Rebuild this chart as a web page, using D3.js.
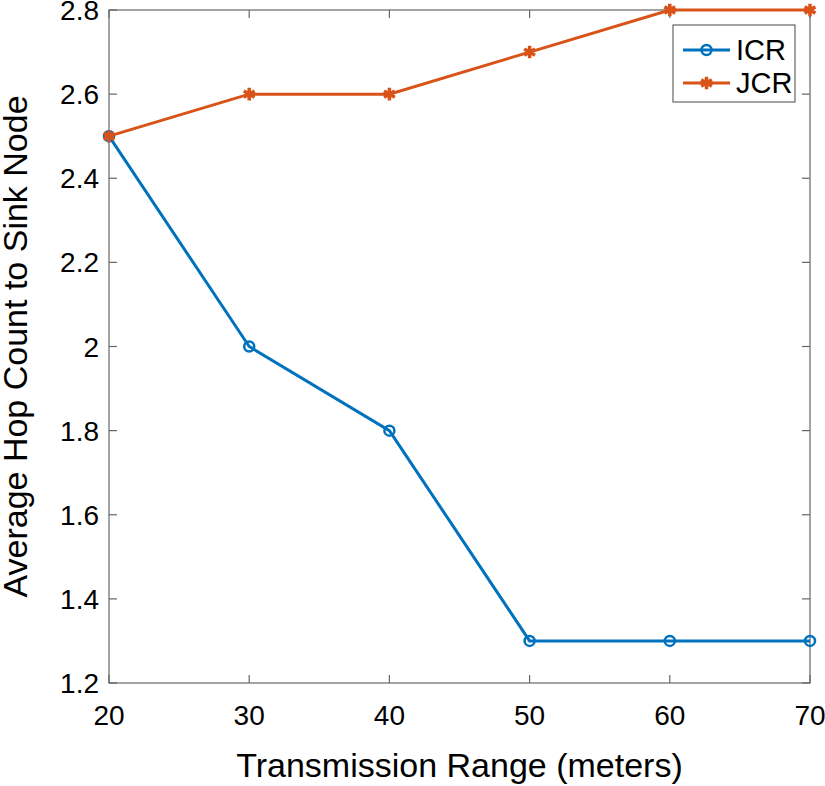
<!DOCTYPE html>
<html><head><meta charset="utf-8">
<script src="https://cdn.jsdelivr.net/npm/d3@7"></script>
<style>body{margin:0;background:#fff}svg{display:block}text{font-family:"Liberation Sans",Arial,sans-serif;fill:#000}</style>
</head><body>
<script>
const ranges = [20, 30, 40, 50, 60, 70];
const icr = [2.5, 2.0, 1.8, 1.3, 1.3, 1.3];
const jcr = [2.5, 2.6, 2.6, 2.7, 2.8, 2.8];
const xTicks = [20, 30, 40, 50, 60, 70];
const yTicks = [1.2, 1.4, 1.6, 1.8, 2.0, 2.2, 2.4, 2.6, 2.8];
const seriesNames = ["ICR", "JCR"];
const colors = ["#0072BD", "#D95319"];

const W = 825, H = 786;
const L = 109, R = 810, T = 10, B = 683;
const svg = d3.select("body").append("svg").attr("width", W).attr("height", H);
const x = d3.scaleLinear().domain([20, 70]).range([L, R]);
const y = d3.scaleLinear().domain([1.2, 2.8]).range([B, T]);
const axisCol = "#666";

// box
svg.append("rect").attr("x", L).attr("y", T).attr("width", R - L).attr("height", B - T)
  .attr("fill", "none").attr("stroke", axisCol).attr("stroke-width", 1.2);

// ticks (inward, both sides)
const tl = 8;
xTicks.forEach(t => {
  const px = x(t);
  svg.append("line").attr("x1", px).attr("x2", px).attr("y1", B).attr("y2", B - tl).attr("stroke", axisCol).attr("stroke-width", 1.2);
  svg.append("line").attr("x1", px).attr("x2", px).attr("y1", T).attr("y2", T + tl).attr("stroke", axisCol).attr("stroke-width", 1.2);
  svg.append("text").attr("x", px).attr("y", 725).attr("text-anchor", "middle").attr("font-size", 28).text(t);
});
yTicks.forEach(t => {
  const py = y(t);
  svg.append("line").attr("x1", L).attr("x2", L + tl).attr("y1", py).attr("y2", py).attr("stroke", axisCol).attr("stroke-width", 1.2);
  svg.append("line").attr("x1", R).attr("x2", R - tl).attr("y1", py).attr("y2", py).attr("stroke", axisCol).attr("stroke-width", 1.2);
  svg.append("text").attr("x", 99).attr("y", py + 10).attr("text-anchor", "end").attr("font-size", 28)
    .text(Number.isInteger(t) ? t : t.toFixed(1));
});

// axis labels
svg.append("text").attr("x", (L + R) / 2).attr("y", 777).attr("text-anchor", "middle").attr("font-size", 34)
  .text("Transmission Range (meters)");
svg.append("text").attr("transform", `translate(27,${(T + B) / 2}) rotate(-90)`).attr("text-anchor", "middle")
  .attr("font-size", 34).text("Average Hop Count to Sink Node");

const line = d3.line().x((d, i) => x(ranges[i])).y(d => y(d));
const star = d3.symbol().type(d3.symbolAsterisk).size(110);

function drawCircle(g, cx, cy, c) {
  g.append("circle").attr("cx", cx).attr("cy", cy).attr("r", 5).attr("fill", "none").attr("stroke", c).attr("stroke-width", 2.5);
}
function drawStar(g, cx, cy, c) {
  g.append("path").attr("d", star()).attr("transform", `translate(${cx},${cy})`).attr("fill", "none").attr("stroke", c).attr("stroke-width", 3.5);
}

[icr, jcr].forEach((vals, si) => {
  const g = svg.append("g");
  g.append("path").datum(vals).attr("d", line).attr("fill", "none").attr("stroke", colors[si]).attr("stroke-width", 3);
  vals.forEach((v, i) => {
    if (si === 0) drawCircle(g, x(ranges[i]), y(v), colors[si]);
    else drawStar(g, x(ranges[i]), y(v), colors[si]);
  });
});

// legend
const lg = svg.append("g");
lg.append("rect").attr("x", 673).attr("y", 25).attr("width", 122).attr("height", 77).attr("fill", "#fff").attr("stroke", axisCol).attr("stroke-width", 1.2);
[50, 83].forEach((ly, si) => {
  lg.append("line").attr("x1", 683).attr("x2", 730).attr("y1", ly).attr("y2", ly).attr("stroke", colors[si]).attr("stroke-width", 3);
  if (si === 0) drawCircle(lg, 706.5, ly, colors[si]); else drawStar(lg, 706.5, ly, colors[si]);
  lg.append("text").attr("x", 736).attr("y", ly + 10).attr("font-size", 29).text(seriesNames[si]);
});
</script>
</body></html>
